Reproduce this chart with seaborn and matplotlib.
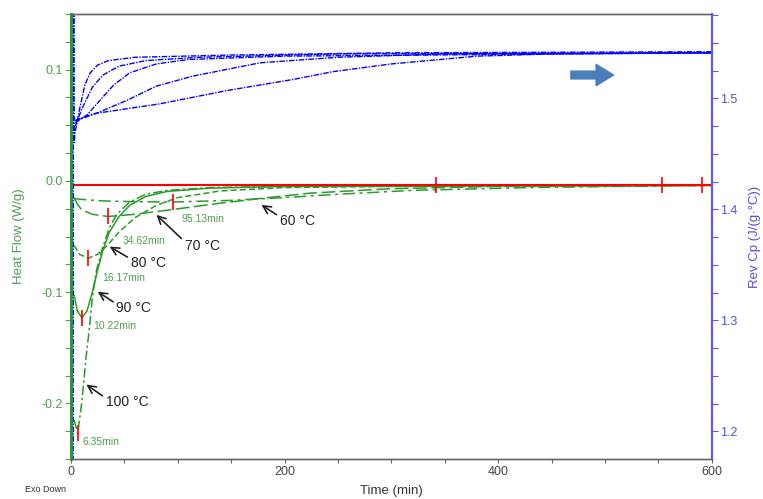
import numpy as np
import pandas as pd
import matplotlib
matplotlib.use("Agg")
import matplotlib.pyplot as plt
import seaborn as sns

# isothermal heat flow curves (time in min, heat flow in W/g)
temps = ["60", "70", "80", "90", "100"]

t60 = [3, 15, 30, 60, 95.13, 150, 200, 250, 320, 430, 550, 600]
hf60 = [-0.016, -0.017, -0.018, -0.0187, -0.019, -0.0175, -0.015, -0.012, -0.0085, -0.006, -0.0045, -0.004]

t70 = [3, 6, 10, 20, 34.62, 60, 93, 140, 180, 224, 300, 400, 600]
hf70 = [-0.015, -0.021, -0.026, -0.030, -0.032, -0.030, -0.026, -0.020, -0.0155, -0.011, -0.007, -0.005, -0.004]

t80 = [3, 8, 16.17, 25, 34, 45, 60, 80, 100, 140, 200, 300, 600]
hf80 = [-0.058, -0.066, -0.0695, -0.066, -0.058, -0.046, -0.033, -0.022, -0.015, -0.009, -0.006, -0.005, -0.004]

t90 = [3, 6, 10.22, 15, 20, 25, 30, 36, 45, 55, 70, 90, 130, 200, 600]
hf90 = [-0.103, -0.117, -0.123, -0.117, -0.100, -0.080, -0.062, -0.046, -0.032, -0.022, -0.014, -0.0095, -0.0065, -0.005, -0.004]

t100 = [3, 6.35, 10, 14, 17.5, 20, 24, 29.6, 36, 43, 55, 70, 90, 130, 200, 600]
hf100 = [-0.215, -0.227, -0.200, -0.160, -0.130, -0.105, -0.080, -0.060, -0.042, -0.030, -0.019, -0.012, -0.0085, -0.006, -0.005, -0.004]

peak_times = [95.13, 34.62, 16.17, 10.22, 6.35]
peak_hf = [-0.019, -0.032, -0.0695, -0.123, -0.227]
peak_labels = ["95.13min", "34.62min", "16.17min", "10.22min", "6.35min"]

# baseline and its integration limits
base_time = [3, 600]
base_hf = [-0.0036, -0.0036]
limit_times = [342, 553, 591]

# reversing heat capacity (J/(g.°C))
cp_t100 = [2.0, 2.5, 3, 4, 8, 13, 18, 25, 35, 60, 150, 300, 600]
cp_100 = [1.0, 1.9, 1.46, 1.47, 1.49, 1.512, 1.523, 1.530, 1.534, 1.537, 1.539, 1.541, 1.542]
cp_t90 = [4, 10, 20, 30, 45, 70, 120, 250, 600]
cp_90 = [1.475, 1.49, 1.51, 1.521, 1.529, 1.534, 1.537, 1.540, 1.541]
cp_t80 = [4, 15, 27, 40, 55, 80, 110, 200, 600]
cp_80 = [1.478, 1.485, 1.498, 1.512, 1.523, 1.531, 1.535, 1.538, 1.541]
cp_t70 = [4, 20, 52, 80, 114, 177, 250, 350, 600]
cp_70 = [1.48, 1.485, 1.498, 1.511, 1.520, 1.532, 1.537, 1.540, 1.541]
cp_t60 = [4, 20, 83, 146, 208, 245, 300, 380, 450, 600]
cp_60 = [1.48, 1.486, 1.495, 1.507, 1.517, 1.524, 1.531, 1.538, 1.540, 1.541]

sns.set_theme(style="ticks")
plt.rcParams["font.family"] = ["Liberation Sans", "DejaVu Sans"]

green = "#2a9a2a"
green_txt = "#4f9f4f"
blue = "#0000ff"
blue_ax = "#5a5aff"

hf_df = pd.concat([
    pd.DataFrame({"time": t, "hf": h, "temp": name})
    for name, t, h in zip(temps, [t60, t70, t80, t90, t100], [hf60, hf70, hf80, hf90, hf100])
])
cp_df = pd.concat([
    pd.DataFrame({"time": t, "cp": c, "temp": name})
    for name, t, c in zip(temps, [cp_t60, cp_t70, cp_t80, cp_t90, cp_t100], [cp_60, cp_70, cp_80, cp_90, cp_100])
])

fig = plt.figure(figsize=(7.63, 4.99), dpi=100)
ax = fig.add_axes([0.093, 0.080, 0.840, 0.892])
ax2 = ax.twinx()

dashes = {"60": (8, 3, 2, 3), "70": (9, 3), "80": (4, 2), "90": "", "100": (6, 2, 1.5, 2)}
sns.lineplot(data=hf_df, x="time", y="hf", hue="temp", style="temp",
             palette={k: green for k in temps}, dashes=dashes, linewidth=1.1,
             estimator=None, sort=False, legend=False, ax=ax)

sns.lineplot(data=cp_df, x="time", y="cp", hue="temp",
             palette={k: blue for k in temps}, linewidth=1.0,
             estimator=None, sort=False, legend=False, ax=ax2)
for line in ax2.get_lines():
    line.set_dashes((4, 1, 1, 1))

# baseline with limit marks
ax.plot(base_time, base_hf, color="red", lw=1.5, zorder=5)
ax.plot(limit_times, [base_hf[0]] * len(limit_times), ls="none", marker="|",
        ms=11, mew=1.2, color="red", zorder=6)
ax.plot(peak_times, peak_hf, ls="none", marker="|", ms=11, mew=1.2, color="red", zorder=6)

# peak time labels
label_pos = [(103.4, -0.0344), (48.7, -0.0536), (29.4, -0.0869), (20.6, -0.130), (11.2, -0.235)]
for lab, (x, y) in zip(peak_labels, label_pos):
    ax.text(x, y, lab, color=green_txt, fontsize=7.5, ha="left", va="center")

# temperature annotations
ann = [("60 °C", (195.4, -0.036), (178.3, -0.0216)),
       ("70 °C", (106.5, -0.0584), (80, -0.0305)),
       ("80 °C", (55.9, -0.074), (36.2, -0.059)),
       ("90 °C", (42.5, -0.1144), (25, -0.0995)),
       ("100 °C", (32.5, -0.199), (14.4, -0.183))]
for lab, txy, tip in ann:
    ax.annotate(lab, xy=tip, xytext=txy, fontsize=10, color="#222222",
                ha="left", va="center",
                arrowprops=dict(arrowstyle="->", color="#222222", lw=1.2,
                                mutation_scale=14, relpos=(0, 0.8), shrinkA=0, shrinkB=0))

# axes styling
ax.set_xlim(0, 600)
ax.set_ylim(-0.25, 0.15)
ax2.set_ylim(1.175, 1.576)
ax.set_xticks([0, 200, 400, 600])
ax.set_xticks(np.arange(0, 601, 50), minor=True)
ax.set_yticks([-0.2, -0.1, 0.0, 0.1])
ax.set_yticklabels(["-0.2", "-0.1", "0.0", "0.1"])
ax.set_yticks(np.arange(-0.25, 0.151, 0.025), minor=True)
ax2.set_yticks([1.2, 1.3, 1.4, 1.5])
ax2.set_yticks(np.arange(1.2, 1.576, 0.025), minor=True)

ax.tick_params(axis="x", which="both", direction="out", length=3, width=0.8,
               colors="#666666", labelcolor="#444444", labelsize=9, pad=2)
ax.tick_params(axis="y", which="both", direction="out", length=4, width=0.8,
               colors=green_txt, labelsize=9, pad=2)
ax2.tick_params(axis="y", which="both", direction="out", length=4, width=0.8,
                colors=blue_ax, labelcolor="#5050e0", labelsize=9, pad=2)

for a in (ax, ax2):
    a.spines["top"].set_color("#666666")
    a.spines["bottom"].set_color("#666666")
    a.spines["left"].set_color(green)
    a.spines["right"].set_color(blue_ax)
    a.spines["left"].set_linewidth(2)
    a.spines["right"].set_linewidth(1.5)
    a.spines["top"].set_linewidth(1)
    a.spines["bottom"].set_linewidth(1)
    a.grid(False)

ax.set_xlabel("Time (min)", fontsize=9.5, color="#333333")
ax.xaxis.set_label_coords(0.5, -0.058)
ax.set_ylabel("Heat Flow (W/g)", fontsize=9.5, color=green_txt)
ax.yaxis.set_label_coords(-0.072, 0.5)
ax2.set_ylabel("Rev Cp (J/(g·°C))", fontsize=9.5, color="#5050e0")
ax2.yaxis.set_label_coords(1.058, 0.5)

# direction arrow for the Cp axis
ax2.annotate("", xy=(508, 1.521), xytext=(468, 1.521),
             arrowprops=dict(arrowstyle="simple,head_width=1.1,head_length=0.9,tail_width=0.4",
                             color="#4a7ebb", mutation_scale=14, shrinkA=0, shrinkB=0))

fig.text(0.033, 0.014, "Exo Down", fontsize=6.5, color="#333333")

fig.savefig("out.png", dpi=100)
